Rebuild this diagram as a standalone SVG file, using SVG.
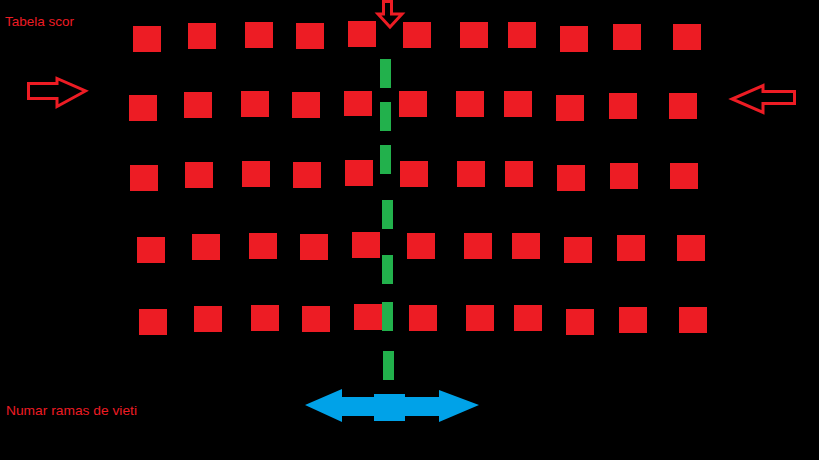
<svg xmlns="http://www.w3.org/2000/svg" width="819" height="460" viewBox="0 0 819 460">
<style>
.inv{fill:#ED1C24}
.out{fill:none;stroke:#ED1C24;stroke-width:3;stroke-linejoin:miter}
.dash{fill:#22B14C}
.lbl{font-family:"Liberation Sans",Arial,sans-serif;font-size:13px;fill:#ED1C24}
</style>
<rect x="0" y="0" width="819" height="460" fill="#000"/>
<text class="lbl" x="5" y="26" textLength="69" lengthAdjust="spacingAndGlyphs">Tabela scor</text>
<text class="lbl" x="6" y="415" textLength="131" lengthAdjust="spacingAndGlyphs">Numar ramas de vieti</text>
<g id="invaders">
<g id="row1">
<rect class="inv" x="133" y="26" width="28" height="26"/>
<rect class="inv" x="188" y="23" width="28" height="26"/>
<rect class="inv" x="245" y="22" width="28" height="26"/>
<rect class="inv" x="296" y="23" width="28" height="26"/>
<rect class="inv" x="348" y="21" width="28" height="26"/>
<rect class="inv" x="403" y="22" width="28" height="26"/>
<rect class="inv" x="460" y="22" width="28" height="26"/>
<rect class="inv" x="508" y="22" width="28" height="26"/>
<rect class="inv" x="560" y="26" width="28" height="26"/>
<rect class="inv" x="613" y="24" width="28" height="26"/>
<rect class="inv" x="673" y="24" width="28" height="26"/>
</g>
<g id="row2">
<rect class="inv" x="129" y="95" width="28" height="26"/>
<rect class="inv" x="184" y="92" width="28" height="26"/>
<rect class="inv" x="241" y="91" width="28" height="26"/>
<rect class="inv" x="292" y="92" width="28" height="26"/>
<rect class="inv" x="344" y="91" width="28" height="25"/>
<rect class="inv" x="399" y="91" width="28" height="26"/>
<rect class="inv" x="456" y="91" width="28" height="26"/>
<rect class="inv" x="504" y="91" width="28" height="26"/>
<rect class="inv" x="556" y="95" width="28" height="26"/>
<rect class="inv" x="609" y="93" width="28" height="26"/>
<rect class="inv" x="669" y="93" width="28" height="26"/>
</g>
<g id="row3">
<rect class="inv" x="130" y="165" width="28" height="26"/>
<rect class="inv" x="185" y="162" width="28" height="26"/>
<rect class="inv" x="242" y="161" width="28" height="26"/>
<rect class="inv" x="293" y="162" width="28" height="26"/>
<rect class="inv" x="345" y="160" width="28" height="26"/>
<rect class="inv" x="400" y="161" width="28" height="26"/>
<rect class="inv" x="457" y="161" width="28" height="26"/>
<rect class="inv" x="505" y="161" width="28" height="26"/>
<rect class="inv" x="557" y="165" width="28" height="26"/>
<rect class="inv" x="610" y="163" width="28" height="26"/>
<rect class="inv" x="670" y="163" width="28" height="26"/>
</g>
<g id="row4">
<rect class="inv" x="137" y="237" width="28" height="26"/>
<rect class="inv" x="192" y="234" width="28" height="26"/>
<rect class="inv" x="249" y="233" width="28" height="26"/>
<rect class="inv" x="300" y="234" width="28" height="26"/>
<rect class="inv" x="352" y="232" width="28" height="26"/>
<rect class="inv" x="407" y="233" width="28" height="26"/>
<rect class="inv" x="464" y="233" width="28" height="26"/>
<rect class="inv" x="512" y="233" width="28" height="26"/>
<rect class="inv" x="564" y="237" width="28" height="26"/>
<rect class="inv" x="617" y="235" width="28" height="26"/>
<rect class="inv" x="677" y="235" width="28" height="26"/>
</g>
<g id="row5">
<rect class="inv" x="139" y="309" width="28" height="26"/>
<rect class="inv" x="194" y="306" width="28" height="26"/>
<rect class="inv" x="251" y="305" width="28" height="26"/>
<rect class="inv" x="302" y="306" width="28" height="26"/>
<rect class="inv" x="354" y="304" width="28" height="26"/>
<rect class="inv" x="409" y="305" width="28" height="26"/>
<rect class="inv" x="466" y="305" width="28" height="26"/>
<rect class="inv" x="514" y="305" width="28" height="26"/>
<rect class="inv" x="566" y="309" width="28" height="26"/>
<rect class="inv" x="619" y="307" width="28" height="26"/>
<rect class="inv" x="679" y="307" width="28" height="26"/>
</g>
</g>
<g id="shot">
<rect class="dash" x="380" y="59" width="11" height="29"/>
<rect class="dash" x="380" y="102" width="11" height="29"/>
<rect class="dash" x="380" y="145" width="11" height="29"/>
<rect class="dash" x="382" y="200" width="11" height="29"/>
<rect class="dash" x="382" y="255" width="11" height="29"/>
<rect class="dash" x="382" y="302" width="11" height="29"/>
<rect class="dash" x="383" y="351" width="11" height="29"/>
</g>
<g id="arrow-top">
<polygon class="out" points="383.5,1.5 391.5,1.5 391.5,14 402,14 390,27 378,14 383.5,14"/>
</g>
<g id="arrow-left">
<polygon class="out" points="28.5,83.5 57,83.5 57,78.5 85.5,91 57,106.5 57,98.5 28.5,98.5"/>
</g>
<g id="arrow-right">
<polygon class="out" points="794.5,91.5 763,91.5 763,85.5 732,99 763,112.5 763,103.5 794.5,103.5"/>
</g>
<g id="player">
<polygon fill="#00A2E8" points="305,405 342,389 342,397 374,397 374,394 405,394 405,397 439,397 439,390 479,405 439,422 439,416 405,416 405,421 374,421 374,416 342,416 342,422"/>
</g>
</svg>
